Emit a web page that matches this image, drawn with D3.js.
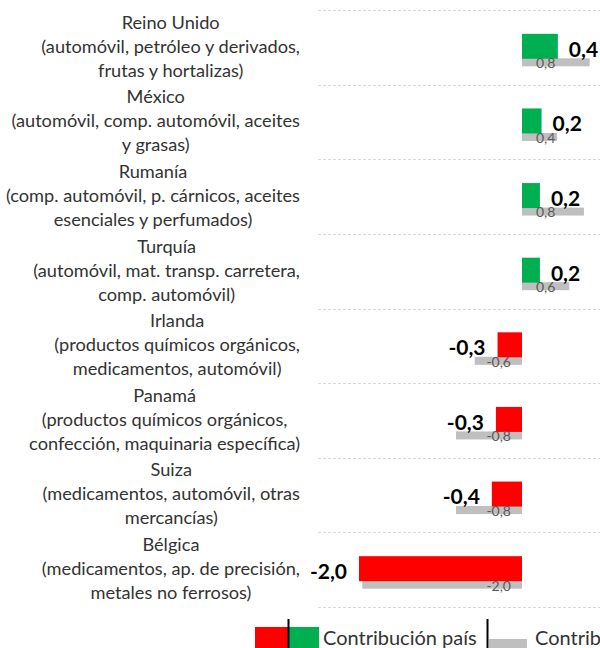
<!DOCTYPE html>
<html>
<head>
<meta charset="utf-8">
<script src="https://cdn.jsdelivr.net/npm/d3@7"></script>
<style>
  body { margin: 0; background: #fff; overflow: hidden; }
  svg { display: block; font-family: Lato, "Open Sans", sans-serif; }
</style>
</head>
<body>
<div id="chart"></div>
<script>

// data
var countries = ["Reino Unido", "México", "Rumanía", "Turquía", "Irlanda", "Panamá", "Suiza", "Bélgica"]

var products = [
    ["(automóvil, petróleo y derivados,", "frutas y hortalizas)"],
    ["(automóvil, comp. automóvil, aceites", "y grasas)"],
    ["(comp. automóvil, p. cárnicos, aceites", "esenciales y perfumados)"],
    ["(automóvil, mat. transp. carretera,", "comp. automóvil)"],
    ["(productos químicos orgánicos,", "medicamentos, automóvil)"],
    ["(productos químicos orgánicos,", "confección, maquinaria específica)"],
    ["(medicamentos, automóvil, otras", "mercancías)"],
    ["(medicamentos, ap. de precisión,", "metales no ferrosos)"]
]

var countryContrib = [0.44, 0.24, 0.22, 0.22, -0.30, -0.32, -0.37, -2.00]

var otherContrib = [0.83, 0.43, 0.76, 0.58, -0.58, -0.81, -0.81, -1.96]

var legendLabels = ["Contribución país", "Contribución sector"]

var width = 600,
    height = 648

var fmt = function(v) { return d3.format(".1f")(v).replace(".", ",").replace("−", "-") }

var svg = d3.select("#chart").append("svg")
    .attr("width", width)
    .attr("height", height)

var x = d3.scaleLinear()
    .domain([-2, 1])
    .range([359, 603.5])

var y = d3.scaleBand()
    .domain(countries)
    .range([10, 607])

var step = y.step()

// dashed gridlines between rows
var lines = d3.range(countries.length + 1).map(function(i) { return 10 + i * step })

svg.selectAll(".grid")
    .data(lines)
    .enter().append("line")
    .attr("x1", 318)
    .attr("x2", width)
    .attr("y1", function(d) { return Math.round(d) + 0.5 })
    .attr("y2", function(d) { return Math.round(d) + 0.5 })
    .attr("stroke", "#d9d9d9")
    .attr("stroke-dasharray", "3,2")

var mid = function(c) { return y(c) + step / 2 }

// category labels: block right-aligned, lines centred inside it
countries.forEach(function(c, i) {

    var g = svg.append("g").attr("class", "cat")
    var rows = [c].concat(products[i])

    var texts = rows.map(function(t, j) {
        return g.append("text")
            .attr("y", mid(c) + (j - 1) * 24 - 1)
            .attr("dy", "0.35em")
            .attr("text-anchor", "middle")
            .attr("font-size", "18.2px")
            .attr("fill", "#333")
            .text(t)
    })

    var maxW = d3.max(texts, function(t) { return t.node().getComputedTextLength() })
    texts.forEach(function(t) { t.attr("x", 300 - maxW / 2) })
})

// grey bars (reference contribution)
svg.selectAll(".other")
    .data(countries)
    .enter().append("rect")
    .attr("x", function(d, i) { return x(Math.min(0, otherContrib[i])) })
    .attr("width", function(d, i) { return Math.abs(x(otherContrib[i]) - x(0)) })
    .attr("y", function(d) { return mid(d) + 11 })
    .attr("height", 8)
    .attr("fill", "#bfbfbf")

// coloured bars (country contribution)
svg.selectAll(".country")
    .data(countries)
    .enter().append("rect")
    .attr("x", function(d, i) { return x(Math.min(0, countryContrib[i])) })
    .attr("width", function(d, i) { return Math.abs(x(countryContrib[i]) - x(0)) })
    .attr("y", function(d) { return mid(d) - 13.5 })
    .attr("height", 25)
    .attr("fill", function(d, i) { return countryContrib[i] < 0 ? "#ff0000" : "#00b050" })

// small grey labels
svg.selectAll(".otherLabel")
    .data(countries)
    .enter().append("text")
    .attr("x", function(d, i) { return otherContrib[i] < 0 ? x(0) - 11 : x(0) + 14 })
    .attr("y", function(d) { return mid(d) + 16 })
    .attr("dy", "0.35em")
    .attr("text-anchor", function(d, i) { return otherContrib[i] < 0 ? "end" : "start" })
    .attr("font-size", "14px")
    .attr("fill", "#595959")
    .text(function(d, i) { return fmt(otherContrib[i]) })

// bold value labels
svg.selectAll(".valueLabel")
    .data(countries)
    .enter().append("text")
    .attr("x", function(d, i) { return countryContrib[i] < 0 ? x(countryContrib[i]) - 12 : x(countryContrib[i]) + 11 })
    .attr("y", function(d) { return mid(d) + 2 })
    .attr("dy", "0.35em")
    .attr("text-anchor", function(d, i) { return countryContrib[i] < 0 ? "end" : "start" })
    .attr("font-size", "21px")
    .attr("font-weight", "bold")
    .attr("fill", "#000")
    .text(function(d, i) { return fmt(countryContrib[i]) })

// legend
var lg = svg.append("g")

lg.append("rect").attr("x", 255).attr("y", 627).attr("width", 33).attr("height", 25).attr("fill", "#ff0000")
lg.append("rect").attr("x", 288).attr("y", 627).attr("width", 31).attr("height", 25).attr("fill", "#00b050")
lg.append("line").attr("x1", 288.5).attr("x2", 288.5).attr("y1", 619).attr("y2", 648).attr("stroke", "#000").attr("stroke-width", 2)

lg.append("text").attr("x", 323).attr("y", 638).attr("dy", "0.35em")
    .attr("font-size", "20px").attr("fill", "#333").text(legendLabels[0])

lg.append("line").attr("x1", 487.5).attr("x2", 487.5).attr("y1", 619).attr("y2", 648).attr("stroke", "#000").attr("stroke-width", 2)
lg.append("rect").attr("x", 489).attr("y", 639).attr("width", 38).attr("height", 9).attr("fill", "#bfbfbf")

lg.append("text").attr("x", 535).attr("y", 638).attr("dy", "0.35em")
    .attr("font-size", "20px").attr("fill", "#333").text(legendLabels[1])

</script>
</body>
</html>
